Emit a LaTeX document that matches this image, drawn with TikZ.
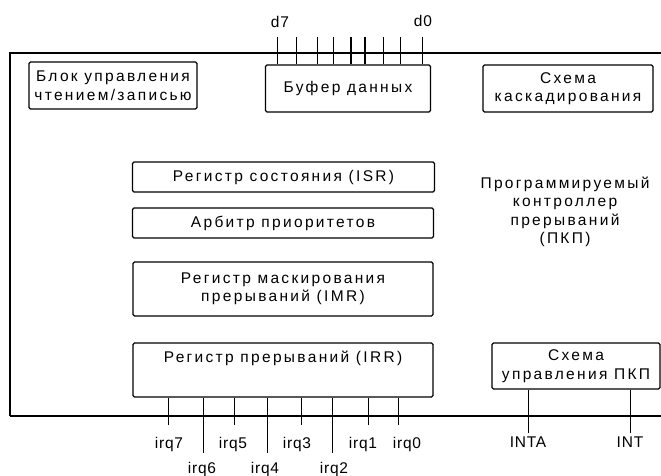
\documentclass[tikz,border=0pt]{standalone}
\usepackage{fontspec}
\setmainfont{Liberation Sans}[LetterSpace=15]
\newfontfamily\lblfont{Liberation Sans}[LetterSpace=5]
\begin{document}
\begin{tikzpicture}[x=1pt,y=-1pt,
  box/.style={draw, line width=1.1pt, rounded corners=1.5pt, inner sep=0pt, align=center},
  txt/.style={font=\fontsize{15.5}{18.5}\selectfont, align=center},
  lbl/.style={font=\lblfont\fontsize{15.5}{18.5}\selectfont, inner sep=2pt, anchor=north},
  wire/.style={line width=1pt}]
\useasboundingbox (0,0) rectangle (661,476);
% main frame
\draw[line width=1.2pt] (661,53) -- (10,53) -- (10,416);
\draw[line width=1.8pt] (10,416) -- (661,416);
% boxes
\node[box, minimum width=168pt, minimum height=47pt] (rw) at (113,85.5) {};
\node[txt] at (rw.center) {Блок управления\\чтением/записью};
\node[box, fill=white, minimum width=165pt, minimum height=47pt] (buf) at (348,88.5) {};
\node[txt] at (buf.center) {Буфер данных};
\node[box, minimum width=170pt, minimum height=47pt] (casc) at (568,88.5) {};
\node[txt] at (casc.center) {Схема\\каскадирования};
\node[box, minimum width=302pt, minimum height=30pt] (sr) at (283.5,177) {};
\node[txt] at (sr.center) {Регистр состояния (ISR)};
\node[box, minimum width=301pt, minimum height=30pt] (arb) at (283,223) {};
\node[txt] at (arb.center) {Арбитр приоритетов};
\node[box, minimum width=300pt, minimum height=54pt] (imr) at (283,289) {};
\node[txt] at (imr.center) {Регистр маскирования\\прерываний (IMR)};
\node[box, minimum width=300pt, minimum height=54pt] (irr) at (283,370) {};
\node[txt] at (283,358) {Регистр прерываний (IRR)};
\node[box, minimum width=168pt, minimum height=46pt] (ctrl) at (576,366) {};
\node[txt] at (ctrl.center) {Схема\\управления ПКП};
\node[txt] (pkp) at (565,212) {Программируемый\\контроллер\\прерываний\\(ПКП)};
% data lines
\node[lbl, anchor=center] (d7) at (280,22) {d7};
\node[lbl, anchor=center] (d0) at (423,21) {d0};
\foreach \x/\w [count=\i] in {277/1, 296/1, 317/1, 333/1, 351/1.8, 365/1.8, 383/1, 400/1, 422/1}{
  \coordinate (dt\i) at (\x,37);
  \draw[line width=\w pt] (dt\i) -- (dt\i |- buf.north);
}
% irq lines: line x / label centre x / label name / label top / line end
\foreach \x/\lx/\n/\yy/\ye in {168/169/irq7/435/425, 203/202/irq6/460/453, 234/233/irq5/435/425,
                               267/265/irq4/460/453, 301/297/irq3/435/425, 332/334/irq2/460/453,
                               368/363/irq1/435/425, 398/407/irq0/435/425}{
  \node[lbl] (\n) at (\lx,\yy) {\n};
  \coordinate (e\n) at (\x,\ye);
  \draw[wire] (irr.south -| e\n) -- (e\n);
}
% INTA / INT
\node[lbl] (inta) at (528,435) {INTA};
\node[lbl] (int) at (630,435) {INT};
\draw[wire] (ctrl.south -| inta.north) -- ([yshift=2pt]inta.north);
\draw[wire] (ctrl.south -| int.north) -- ([yshift=2pt]int.north);
\end{tikzpicture}
\end{document}
